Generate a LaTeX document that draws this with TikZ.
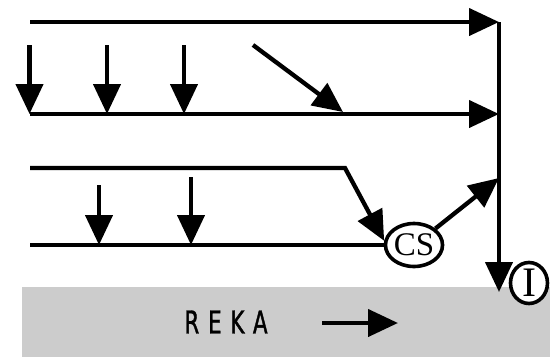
\documentclass[tikz,border=0pt]{standalone}
\usepackage{fontspec}
\setmainfont{Liberation Serif}
\newfontfamily\rekafont{DejaVu Sans}[FakeStretch=0.68,LetterSpace=28,FakeBold=1.2]
\usetikzlibrary{arrows.meta,shapes.geometric}
\definecolor{rekagray}{HTML}{CCCCCC}
\begin{document}
\begin{tikzpicture}[x=1pt,y=-1pt,
  flow/.style={line width=4.3pt,-{Triangle[width=27pt,length=30pt]}},
  plain/.style={line width=4.3pt},
  bubble/.style={draw,line width=3.6pt,fill=white,ellipse,inner sep=0pt}]
\useasboundingbox (0,0) rectangle (550,357);
\fill[rekagray] (22,287) rectangle (550,357);
% coordinates
\coordinate (t1) at (30,22);   \coordinate (t2) at (499,22);
\coordinate (s1) at (30,114);  \coordinate (s2) at (499,114);
\coordinate (r1) at (30,168);  \coordinate (rb) at (345,168);
\coordinate (f1) at (30,245);
\coordinate (vb) at (499,292); \coordinate (vj) at (499,178);
\coordinate (d1a) at (29.5,45); \coordinate (d1b) at (29.5,114);
\coordinate (d2a) at (107,45);  \coordinate (d2b) at (107,114);
\coordinate (d3a) at (184,45);  \coordinate (d3b) at (184,114);
\coordinate (dga) at (253,45);  \coordinate (dgb) at (343,112);
\coordinate (e1a) at (99,185);  \coordinate (e1b) at (99,245);
\coordinate (e2a) at (191,177); \coordinate (e2b) at (191,245);
\coordinate (ra) at (322,323);  \coordinate (rz) at (398,323);
% lines
\draw[flow] (t1) -- (t2);
\draw[flow] (s1) -- (s2);
\draw[plain] (t2) -- (vj);
\draw[flow] (vj) -- (vb);
\draw[flow] (d1a) -- (d1b);
\draw[flow] (d2a) -- (d2b);
\draw[flow] (d3a) -- (d3b);
\draw[flow] (dga) -- (dgb);
\draw[flow] (e1a) -- (e1b);
\draw[flow] (e2a) -- (e2b);
% nodes
\node[bubble,minimum width=57pt,minimum height=43pt,font=\fontsize{33}{33}\selectfont] (cs) at (414,245) {CS};
\node[bubble,minimum width=37pt,minimum height=41pt,font=\fontsize{42}{42}\selectfont] (inode) at (529,283) {I};
\draw[plain] (f1) -- (cs.west);
\draw[flow,line join=miter] (r1) -- (rb) -- (cs.172);
\draw[flow] (cs.north east) -- (vj);
% river
\node[font=\rekafont\fontsize{31.5}{31.5}\selectfont,inner sep=0pt] (reka) at (226,322) {REKA};
\draw[flow] (ra) -- (rz);
\end{tikzpicture}
\end{document}
